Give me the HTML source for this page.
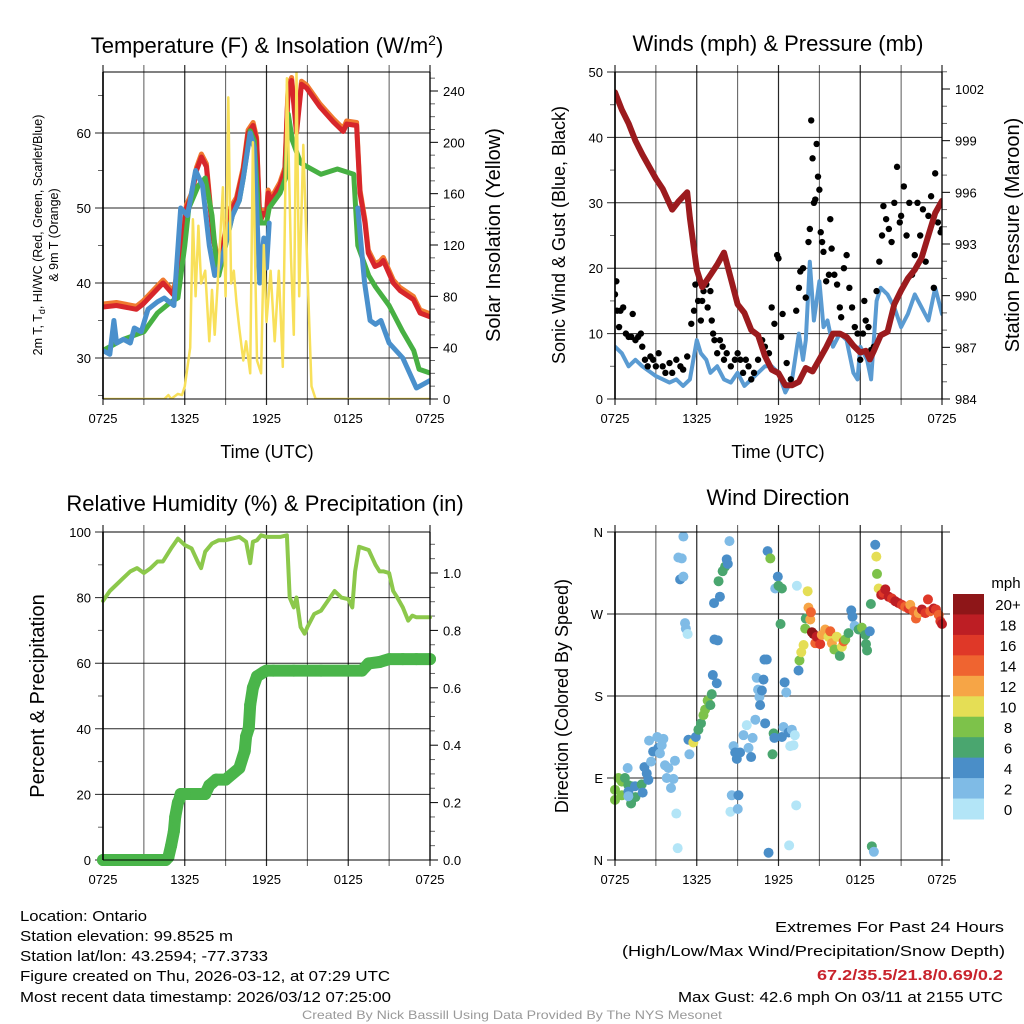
<!DOCTYPE html>
<html><head><meta charset="utf-8"><style>
html,body{margin:0;padding:0;background:#fff;}
svg{display:block;font-family:"Liberation Sans",sans-serif;}
</style></head><body>
<svg id="s" width="1024" height="1024" viewBox="0 0 1024 1024" xmlns="http://www.w3.org/2000/svg">
<g id="g"></g>
<g font-size="15" fill="#000">
<text x="20" y="921" textLength="127" lengthAdjust="spacingAndGlyphs">Location: Ontario</text>
<text x="20" y="941" textLength="213" lengthAdjust="spacingAndGlyphs">Station elevation: 99.8525 m</text>
<text x="20" y="961" textLength="248" lengthAdjust="spacingAndGlyphs">Station lat/lon: 43.2594; -77.3733</text>
<text x="20" y="981" textLength="370" lengthAdjust="spacingAndGlyphs">Figure created on Thu, 2026-03-12, at 07:29 UTC</text>
<text x="20" y="1002" textLength="371" lengthAdjust="spacingAndGlyphs">Most recent data timestamp: 2026/03/12 07:25:00</text>
<text x="775" y="932" textLength="229" lengthAdjust="spacingAndGlyphs">Extremes For Past 24 Hours</text>
<text x="622" y="956" textLength="383" lengthAdjust="spacingAndGlyphs">(High/Low/Max Wind/Precipitation/Snow Depth)</text>
<text x="817" y="980" textLength="186" lengthAdjust="spacingAndGlyphs" fill="#c8232c" font-weight="bold">67.2/35.5/21.8/0.69/0.2</text>
<text x="678" y="1002" textLength="325" lengthAdjust="spacingAndGlyphs">Max Gust: 42.6 mph On 03/11 at 2155 UTC</text>
<text x="302" y="1019" textLength="420" lengthAdjust="spacingAndGlyphs" font-size="12" fill="#999">Created By Nick Bassill Using Data Provided By The NYS Mesonet</text>
</g>
</svg>
<script>
// ---- data ----
const timeTickLabels=["0725","1325","1925","0125","0725"];
const redT_h=[0,0.98,2.45,2.94,4.41,5.14,5.63,6.12,6.49,6.86,7.22,7.59,8.08,8.45,8.82,9.31,9.8,10.29,10.65,11.02,11.27,11.51,11.76,12,12.12,12.37,12.98,13.35,13.59,13.84,14.2,14.57,14.94,15.92,16.9,17.63,17.88,18.61,18.86,19.23,19.47,19.96,20.33,20.57,21.31,21.8,22.78,23.27,24];
const redT_v=[36.8,37,36.5,37.2,40,38.5,42,50,51.5,55,56.8,55.5,46,42.5,45,49.5,51,55,60,61,59,48,49.3,49,52,51,53,55,66,67,60,66.5,66,63.5,61.5,60.2,61.2,61,52,48,44,42.2,42.5,43,40,39,37.8,36,35.5];
const grn_h=[0,1.5,3,4,5,5.5,6,6.3,7,7.5,8,8.3,8.5,9,9.5,10,10.3,10.8,11.1,11.4,11.6,12,12.2,13,13.4,13.6,13.9,14.5,15,16,17.2,18.4,18.7,19,19.5,20,21,22,22.8,23.2,24];
const grn_v=[31,32.5,33.5,36,37.5,38,45,50,53,54,49,43,41,45,49,51,54,60.3,59,50,48,48,50,52,54,62.5,59,56,55.5,54.5,55.2,54.5,45,43.5,41,39.5,37,33.5,31,28.5,28];
const blu_h=[0,0.5,0.8,1,1.5,2,2.3,2.8,3.3,4,4.5,5.2,5.7,6.2,6.8,7.3,7.8,8.2,8.5,8.9,9.5,10,10.3,10.8,11.1,11.5,11.8,12,12.2];
const blu_v=[31,30.5,35,32,32.5,32,34,33.5,36.5,37.5,38,37,50,49,55,53,45,41,42,44.5,49,51,54,60,58,40,46,42,48];
const blu2_h=[18.7,18.9,19.2,19.6,20,20.4,21,22,22.5,23,23.5,24];
const blu2_v=[50,46,40,35,34.5,35,32,30,28,26,26.5,27];
const sun_h=[0,4.5,4.8,5,5.5,5.8,6,6.2,6.4,6.6,6.8,7,7.2,7.5,7.8,8,8.2,8.5,8.8,9,9.2,9.4,9.6,9.8,10,10.3,10.5,10.8,11,11.3,11.6,11.8,12,12.3,12.6,12.9,13.2,13.5,13.8,14,14.2,14.4,14.7,15,15.3,15.6,24];
const sun_v=[0,0,3,0,4,3,10,25,40,140,80,135,90,100,45,85,50,105,165,80,235,90,100,75,55,30,45,20,200,30,20,120,60,100,45,100,25,250,110,50,255,80,198,100,10,0,0];
const pres_h=[0,0.5,1,1.5,2,3,3.5,4.2,4.7,5.3,5.5,6,6.4,7,7.5,8,8.5,9,9.5,10,10.5,11,11.5,12,12.5,13,13.5,14,14.5,15,15.5,16,16.5,17,17.5,18,18.4,18.7,19,19.5,20,20.5,21,21.5,22,22.5,23,23.5,24];
const pres_v=[1001.8,1000.8,1000,999,998.2,996.8,996.2,995,995.5,996,994.5,991.5,990.5,991.2,991.8,992.5,991,989.5,989,988,987.7,986.5,985.7,985.5,984.8,984.8,985,985.8,985.6,986.3,987,987.8,987.8,987.6,987.1,986.7,986.8,986.3,986.8,987.7,987.9,989.5,990.3,991,991.5,992.2,993.5,994.8,995.5];
const wind_h=[0,0.5,1,1.5,2,3,4,4.5,5,5.5,6,6.3,6.7,7,7.5,8,8.5,9,9.5,10,10.5,11,11.5,12,12.5,13,13.5,13.8,14,14.3,14.6,15,15.3,15.6,16,16.5,17,17.5,17.8,18,18.5,18.8,19.2,19.5,20,20.5,21,21.5,22,22.5,23,23.5,24];
const wind_v=[8,7,5,6,5,3.5,2.5,3,2,3,9,7,6,4,5,3,2.5,4,2,3,4,5,5,4,1,3,10,6,9,21,12,18,11,12,8,10,9,4,3,8,6,3,15,17,16,14,11,13,16,14,12,17,13];
const gust_h=[0,0.1,0.15,0.3,0.4,0.6,0.8,1,1.2,1.3,1.5,1.7,1.9,2,2.2,2.4,2.6,2.8,3,3.2,3.5,3.7,4,4.2,4.5,4.8,5,5.3,5.6,5.8,5.9,6.1,6.3,6.4,6.5,6.7,6.8,7,7.1,7.2,7.3,7.5,7.7,7.9,8,8.2,8.5,8.8,9,9.2,9.4,9.6,9.8,10,10.2,10.5,10.8,11,11.3,11.5,11.7,11.9,12,12.2,12.3,12.6,12.9,13.3,13.5,13.6,13.8,14,14.2,14.3,14.4,14.5,14.6,14.7,14.8,14.9,15,15.1,15.2,15.3,15.5,15.7,15.8,15.9,16.1,16.3,16.5,16.6,16.8,17,17.2,17.4,17.6,17.8,18,18.2,18.3,18.4,18.6,18.8,19,19.2,19.4,19.6,19.7,19.9,20.1,20.3,20.5,20.7,20.9,21,21.2,21.4,21.6,21.8,22,22.2,22.4,22.6,22.8,23,23.2,23.4,23.5,23.7,23.9,24];
const gust_v=[16,18,13.5,11,13.5,14,10,9.5,9.5,13,9,9.5,10,8,6,5,6.5,6,5,7,5,4,5.5,4,6,5,4.5,6.5,11.5,13.5,17.5,15,12,15,16.5,17.5,14,16.5,12,10,9,7,9,8,6,7,5,6,7,6,4,6,5,3,4,6,9,8,7,14,11.5,22,21.5,9.5,13,5.5,3,13.5,17,19.5,20,15.5,24,26,42.6,36.8,30,30.5,39,34,32,25.5,24,22.5,18,19,27.5,23,19,17.5,14,12.5,20,22,17,14,11,10,6,10,15,12,11,7.5,8,16.5,21,25,29.5,27.5,26,24,30,35.5,27,28,32.5,25,30,19,22,30,25,29,21,28,31,17,34.5,27,25.5,26];
const rh_h=[0,0.5,1,1.5,2,2.5,3,3.5,4,4.4,5,5.5,6,6.5,7,7.2,7.5,8,8.5,9,9.5,10,10.5,10.8,11,11.3,11.6,12,13,13.5,13.7,14,14.2,14.5,14.8,15,15.5,16,16.5,17,17.5,18,18.3,18.5,18.8,19.5,20,20.3,20.6,21,21.3,21.6,22,22.4,22.7,23,24];
const rh_v=[79,82,84,86,88,89,87.5,89,91,91,95,98,96,95,90.5,89,94,96.5,97.5,97.5,98,98.5,97,90.5,97,97.5,99,98.5,98.5,99,80,77,80,71,69,71,75,76,79,82,80,79.5,77,88,95.5,94.5,90,88,88,87.5,82,80,77,73,74.5,74,74];
const pcp_h=[0,1,2,3,4,4.6,4.8,5,5.2,5.3,5.5,5.6,5.7,6,7,7.5,7.8,8.3,9,10,10.4,10.5,10.7,10.8,11,11.3,11.8,12,12.5,14,16,18,19,19.5,20.3,21,22,23,24];
const pcp_v=[0,0,0,0,0,0,0.01,0.05,0.1,0.15,0.2,0.21,0.23,0.23,0.23,0.23,0.26,0.28,0.28,0.32,0.38,0.43,0.46,0.54,0.6,0.64,0.655,0.66,0.66,0.66,0.66,0.66,0.66,0.685,0.69,0.7,0.7,0.7,0.7];
const dir_h=[0,0,0.25,0.5,0.73,0.5,0.98,1.2,1.18,1.5,0.98,0.98,0.93,1.47,1.96,2.03,2.16,2.33,2.45,2.5,2.65,2.8,3.1,3.18,3.3,3.43,3.55,3.67,3.8,3.92,4.11,4.29,4.4,4.5,4.6,4.65,4.9,4.78,5.02,5.02,5.14,5.2,5.33,5.39,5.46,5.75,5.93,6.12,6.31,6.49,6.61,6.8,7,7.1,7.18,7.47,7.3,7.54,7.27,7.7,7.6,7.9,8.08,8.2,8.28,8.4,8.47,8.57,8.7,8.82,8.94,9.06,9.01,9.18,9.43,9.67,9.8,9.99,10.1,10.3,10.4,10.5,10.6,10.65,10.78,10.9,11.02,10.97,11.14,11.2,11.4,11.27,11.56,11.64,11.7,11.76,11.95,12,12.25,12.15,12.25,12.45,12.57,12.37,12.74,12.86,13.1,12.98,13.2,12.78,13.3,13.35,13.47,13.54,13.67,13.84,13.96,14,14.14,14.2,14.33,14.38,14.45,14.57,14.7,14.8,15.06,15.18,15.43,15.67,15.8,15.92,16.1,16.28,16.5,16.65,16.78,16.9,17.14,17.34,17.43,17.59,17.88,18.12,18.37,18.42,18.5,18.7,18.78,18.85,19,19.1,19.18,19.23,19.35,19.54,19.7,19.84,20.08,20.33,20.57,20.82,21.06,21.3,21.55,21.67,21.92,22.09,22.29,22.53,22.78,22.97,23.14,23.39,23.56,23.76,23.88,24];
const dir_deg=[66,77,90,86,90,71,82,81,62,69,75,70,101,81,83,74,102,95,88,131,108,119,135,123,117,126,133,104,90,101,79,89,109,51,13,332,331,308,311,355,260,254,248,132,116,129,135,143,150,159,165,175,170,182,203,194,242,241,282,289,306,317,322,330,325,350,53,71,125,118,111,71,56,118,137,148,123,113,134,154,200,187,179,170,186,198,150,220,220,339,331,8,116,139,134,298,311,301,298,259,135,195,184,146,140,125,126,143,137,16,60,301,208,219,228,236,254,265,295,277,264,272,250,248,238,245,237,247,253,245,251,238,231,245,224,234,240,242,249,274,267,257,253,255,247,237,230,251,281,15,9,346,333,314,298,291,293,297,289,287,284,282,280,278,276,280,273,265,271,275,271,286,273,276,275,269,262,259];
const dir_spd=[8,8,8,8,6,8,6,6,6,6,4,2,2,4,6,4,4,4,4,2,2,4,2,4,2,2,2,2,2,2,2,2,2,0,0,2,2,4,2,2,2,2,0,4,2,10,4,6,6,8,8,8,6,6,4,4,4,4,4,4,6,6,6,4,4,2,0,2,2,4,4,4,2,4,2,0,2,4,2,2,2,2,2,4,4,4,4,4,4,4,8,4,6,6,4,2,4,6,6,6,4,4,2,2,4,0,0,2,0,0,0,0,4,8,10,10,8,6,10,12,12,14,20,20,14,18,16,12,12,10,14,12,8,10,6,10,14,8,6,4,4,2,6,8,6,6,6,4,6,6,2,4,10,8,10,18,16,18,18,16,18,18,16,14,16,12,14,14,12,18,16,16,14,18,16,14,16,18];
const cbarLabels=["20+","18","16","14","12","10","8","6","4","2","0"];
const cbarColors=["#8e1618","#bd1e24","#df3828","#ef6430","#f6a546","#e5de55","#7dc24a","#4aa66f","#4a8ec8","#7fbbe6","#b3e5f7"];
// ---- rendering ----
const NS="http://www.w3.org/2000/svg";
const root=document.getElementById('g');
function mk(tag,attrs,parent,text){const e=document.createElementNS(NS,tag);for(const k in attrs)e.setAttribute(k,attrs[k]);if(text!==undefined)e.textContent=text;(parent||root).appendChild(e);return e;}
function scale(d0,d1,r0,r1){return v=>r0+(v-d0)/(d1-d0)*(r1-r0);}
function pathD(xs,ys,fx,fy){return xs.map((h,i)=>(i?'L':'M')+fx(h).toFixed(1)+','+fy(ys[i]).toFixed(1)).join('');}

function panel(P){
  const g=mk('g',{});
  
  
  const fx=scale(0,24,P.x0,P.x1);
  for(let h=0;h<=24;h+=3){
    const l=mk('line',{x1:fx(h),x2:fx(h),y1:P.y0-7,y2:P.y1+6,stroke:'#000','stroke-width':(h%6===0)?1.2:1,'stroke-opacity':(h%6===0)?0.85:0.65},g);
    
    
  }
  timeTickLabels.forEach((t,i)=>{
    const tx=mk('text',{x:fx(i*6),y:P.y1+24,'font-size':13,'text-anchor':'middle'},g,t);
    
    
  });
  return {g,fx};
}
function leftAxis(g,P,fy,ticks,labels,minor){
  ticks.forEach((v,i)=>{
    const l=mk('line',{x1:P.x0-8,x2:P.gridRight||P.x1,y1:fy(v),y2:fy(v),stroke:'#000','stroke-width':1,'stroke-opacity':0.85},g);
    
    
    const t=mk('text',{x:P.x0-12,y:fy(v)+5,'font-size':13,'text-anchor':'end'},g,labels[i]);
    
    
  });
  (minor||[]).forEach(v=>{mk('line',{x1:P.x0-5,x2:P.x0,y1:fy(v),y2:fy(v),stroke:'#000','stroke-opacity':0.6},g);});
}
function rightAxis(g,P,fy,ticks,labels,minor){
  ticks.forEach((v,i)=>{
    mk('line',{x1:P.x1,x2:P.x1+8,y1:fy(v),y2:fy(v),stroke:'#000'},g);
    const t=mk('text',{x:P.x1+13,y:fy(v)+5,'font-size':13},g,labels[i]);
    
    
  });
  (minor||[]).forEach(v=>{mk('line',{x1:P.x1,x2:P.x1+5,y1:fy(v),y2:fy(v),stroke:'#000','stroke-opacity':0.6},g);});
}
function frame(g,P){
  mk('line',{x1:P.x0,x2:P.x0,y1:P.y0,y2:P.y1,stroke:'#000','stroke-width':1.6},g);
  mk('line',{x1:P.x1,x2:P.x1,y1:P.y0,y2:P.y1,stroke:'#000','stroke-width':1.2},g);
  mk('line',{x1:P.x0,x2:P.x1,y1:P.y0,y2:P.y0,stroke:'#000','stroke-width':1},g);
  mk('line',{x1:P.x0,x2:P.x1,y1:P.y1,y2:P.y1,stroke:'#000','stroke-width':1},g);
}
function label(g,txt,x,y,size,rot,name){
  const t=mk('text',{x:x,y:y,'font-size':size,'text-anchor':'middle',transform:rot?`rotate(-90 ${x} ${y})`:''},g,txt);
  
  
  return t;
}
function line(g,xs,ys,fx,fy,color,w,name){
  const p=mk('path',{d:pathD(xs,ys,fx,fy),fill:'none',stroke:color,'stroke-width':w,'stroke-linejoin':'round','stroke-linecap':'round'},g);
  
  
  return p;
}

// Panel 1
{const P={x0:103,x1:430,y0:72,y1:399,name:'temperature-panel'};
 const {g,fx}=panel(P);
 const fy=scale(60,30,133,358), fs=scale(0,240,399,91);
 leftAxis(g,P,fy,[30,40,50,60],["30","40","50","60"],[25,35,45,55,65]);
 const mn=[];for(let v=10;v<=250;v+=10)if(v%40)mn.push(v);
 rightAxis(g,P,fs,[0,40,80,120,160,200,240],["0","40","80","120","160","200","240"],mn);
 const clip=mk('clipPath',{id:'c1'},g);mk('rect',{x:P.x0,y:P.y0,width:P.x1-P.x0,height:P.y1-P.y0},clip);
 const d=mk('g',{'clip-path':'url(#c1)'},g);
 line(d,redT_h,redT_v.map(v=>v+0.4),fx,fy,'#f07a30',5,'nine-meter-temp-line');
 line(d,redT_h,redT_v,fx,fy,'#d7262b',5,'temperature-line');
 line(d,grn_h,grn_v,fx,fy,'#47b043',5,'heat-index-line');
 line(d,blu_h,blu_v,fx,fy,'#4a90cc',5,'dewpoint-line');
 line(d,blu2_h,blu2_v,fx,fy,'#4a90cc',5,'dewpoint-line-late');
 line(d,sun_h,sun_v,fx,fs,'#f8e05a',2.5,'solar-insolation-line');
 frame(g,P);
 const t=mk('text',{x:267,y:53,'font-size':22,'text-anchor':'middle'},g);
 t.innerHTML='Temperature (F) &amp; Insolation (W/m<tspan dy="-8" font-size="14">2</tspan><tspan dy="8">)</tspan>';
 
 
 label(g,'Time (UTC)',267,458,18,false,'x-axis-title');
 const yl=mk('text',{x:0,y:0,'font-size':12.5,'text-anchor':'middle',transform:'translate(42 235) rotate(-90)'},g);
 yl.innerHTML='2m T, T<tspan dy="3" font-size="9">d</tspan><tspan dy="-3">, HI/WC (Red, Green, Scarlet/Blue)</tspan>';
 
 
 label(g,'& 9m T (Orange)',58,235,12.5,true,'y-axis-title-line2');
 label(g,'Solar Insolation (Yellow)',500,235,20,true,'right-axis-title');
}
// Panel 2
{const P={x0:615,x1:942,y0:72,y1:399,name:'winds-panel'};
 const {g,fx}=panel(P);
 const fy=scale(0,50,399,72), fp=scale(984,1002,399,89);
 leftAxis(g,P,fy,[0,10,20,30,40,50],["0","10","20","30","40","50"],[5,15,25,35,45]);
 const mn=[];for(let v=985;v<=1003;v++)if((v-984)%3)mn.push(v);
 rightAxis(g,P,fp,[984,987,990,993,996,999,1002],["984","987","990","993","996","999","1002"],mn);
 const clip=mk('clipPath',{id:'c2'},g);mk('rect',{x:P.x0,y:P.y0,width:P.x1-P.x0,height:P.y1-P.y0},clip);
 const d=mk('g',{'clip-path':'url(#c2)'},g);
 line(d,wind_h,wind_v,fx,fy,'#5a9bd2',4,'sonic-wind-line');
 gust_h.forEach((h,i)=>{
   const c=mk('circle',{cx:fx(h),cy:fy(gust_v[i]),r:3.2,fill:'#000'},d);
   
   
 });
 line(d,pres_h,pres_v,fx,fp,'#9c1b1e',6,'pressure-line');
 frame(g,P);
 label(g,'Winds (mph) & Pressure (mb)',778,51,22,false,'winds-title');
 label(g,'Time (UTC)',778,458,18,false,'x-axis-title');
 label(g,'Sonic Wind & Gust (Blue, Black)',565,235,18,true,'y-axis-title');
 label(g,'Station Pressure (Maroon)',1019,235,20,true,'right-axis-title');
}
// Panel 3
{const P={x0:103,x1:430,y0:532,y1:860,name:'humidity-panel'};
 const {g,fx}=panel(P);
 const fy=scale(0,100,860,532), fr=scale(0,1,860,573);
 leftAxis(g,P,fy,[0,20,40,60,80,100],["0","20","40","60","80","100"],[10,30,50,70,90]);
 const mn=[];for(let v=0.05;v<1.15;v+=0.05){if(Math.abs(v*5-Math.round(v*5))>0.01)mn.push(v);}
 rightAxis(g,P,fr,[0,0.2,0.4,0.6,0.8,1.0],["0.0","0.2","0.4","0.6","0.8","1.0"],mn);
 line(g,rh_h,rh_v,fx,fy,'#8cc84b',4,'relative-humidity-line');
 line(g,pcp_h,pcp_v,fx,fr,'#4ab54a',12,'precipitation-line');
 pcp_h.forEach((h,i)=>{
   const c=mk('circle',{cx:fx(h),cy:fr(pcp_v[i]),r:6,fill:'#4ab54a'},g);
   
   
 });
 frame(g,P);
 label(g,'Relative Humidity (%) & Precipitation (in)',265,511,22,false,'humidity-title');
 label(g,'Percent & Precipitation',44,696,20,true,'y-axis-title');
}
// Panel 4
{const P={x0:615,x1:942,y0:532,y1:860,name:'wind-direction-panel',gridRight:950};
 const {g,fx}=panel(P);
 const fy=scale(0,360,860,532);
 leftAxis(g,P,fy,[0,90,180,270,360],["N","E","S","W","N"],[]);
 dir_h.forEach((h,i)=>{
   const bin=Math.min(10,Math.floor(dir_spd[i]/2));
   const c=mk('circle',{cx:fx(h),cy:fy(dir_deg[i]),r:5,fill:cbarColors[10-bin]},g);
   
   
 });
 frame(g,P);
 label(g,'Wind Direction',778,505,22,false,'wind-direction-title');
 label(g,'Direction (Colored By Speed)',568,696,18,true,'y-axis-title');
 const cb=mk('g',{},g);
 
 
 const bh=(819-594)/11;
 cbarColors.forEach((col,i)=>{
   mk('rect',{x:953,y:594+i*bh,width:31,height:bh+0.5,fill:col},cb);
   const t=mk('text',{x:1008,y:594+i*bh+bh/2+6,'font-size':15,'text-anchor':'middle'},cb,cbarLabels[i]);
   
   
 });
 const u=mk('text',{x:1006,y:588,'font-size':15,'text-anchor':'middle'},cb,'mph');
 
 
}
</script>
</body></html>
